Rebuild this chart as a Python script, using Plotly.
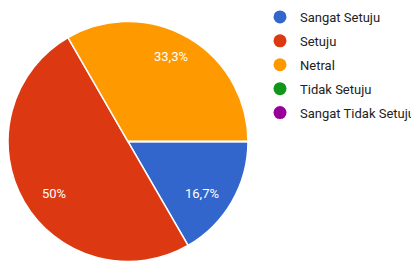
import numpy as np
import plotly.graph_objects as go

categories = ["Sangat Setuju", "Setuju", "Netral", "Tidak Setuju", "Sangat Tidak Setuju"]
values = [1, 3, 2, 0, 0]
colors = ["#3366cc", "#dc3912", "#ff9900", "#109618", "#990099"]

# the page body has the browser's default 8px margin: figure sized to the visible area
PAGE_M = 8
W, H = 419 - PAGE_M, 278 - PAGE_M
cx, cy = 128 - PAGE_M, 141.5 - PAGE_M   # pie centre (figure px, from top-left)
R = 120                                  # pie radius (px)
lab_rx, lab_ry, lab_dy = 85, 100, 2      # label placement (px)

total = sum(values)

def fmt(p):
    s = f"{p:.1f}"
    if s.endswith(".0"):
        s = s[:-2]
    return s.replace(".", ",") + "%"

fig = go.Figure()
fig.add_trace(go.Pie(
    labels=categories, values=values, sort=False,
    direction="clockwise", rotation=90,
    marker=dict(colors=colors, line=dict(color="white", width=1.5)),
    textinfo="none", showlegend=False, hoverinfo="label+percent",
    domain=dict(x=[max(0, (cx - R) / W), (cx + R) / W],
                y=[max(0, (H - cy - R) / H), min(1, (H - cy + R) / H)]),
))

# legend entries (circle markers)
for name, col in zip(categories, colors):
    fig.add_trace(go.Scatter(
        x=[None], y=[None], mode="markers", name=name, legendgroup=name,
        marker=dict(symbol="circle", size=13, color=col),
    ))

# slice labels
cum = np.cumsum([0] + values[:-1])
annotations = []
for v, c0 in zip(values, cum):
    if v <= 0:
        continue
    mid = (c0 + v / 2) / total
    th = np.deg2rad(0 - 360 * mid)
    px = cx + lab_rx * np.cos(th)
    py = cy + lab_dy - lab_ry * np.sin(th)
    annotations.append(dict(
        x=px / W, y=(H - py) / H, xref="paper", yref="paper",
        xanchor="center", yanchor="middle",
        text=fmt(v / total * 100), showarrow=False,
        font=dict(family="Roboto, Arial, sans-serif", size=13, color="white"),
    ))

fig.update_layout(
    width=W, height=H, margin=dict(l=0, r=0, t=0, b=0, autoexpand=False),
    paper_bgcolor="white", plot_bgcolor="white",
    xaxis=dict(visible=False), yaxis=dict(visible=False),
    showlegend=True,
    legend=dict(
        x=252 / W, y=1 + 6 / H, xanchor="left", yanchor="top",
        font=dict(family="Roboto, Arial, sans-serif", size=13, color="#222222"),
        tracegroupgap=4, itemwidth=30, bgcolor="rgba(0,0,0,0)",
    ),
    annotations=annotations,
)

fig.write_html("out.html")
